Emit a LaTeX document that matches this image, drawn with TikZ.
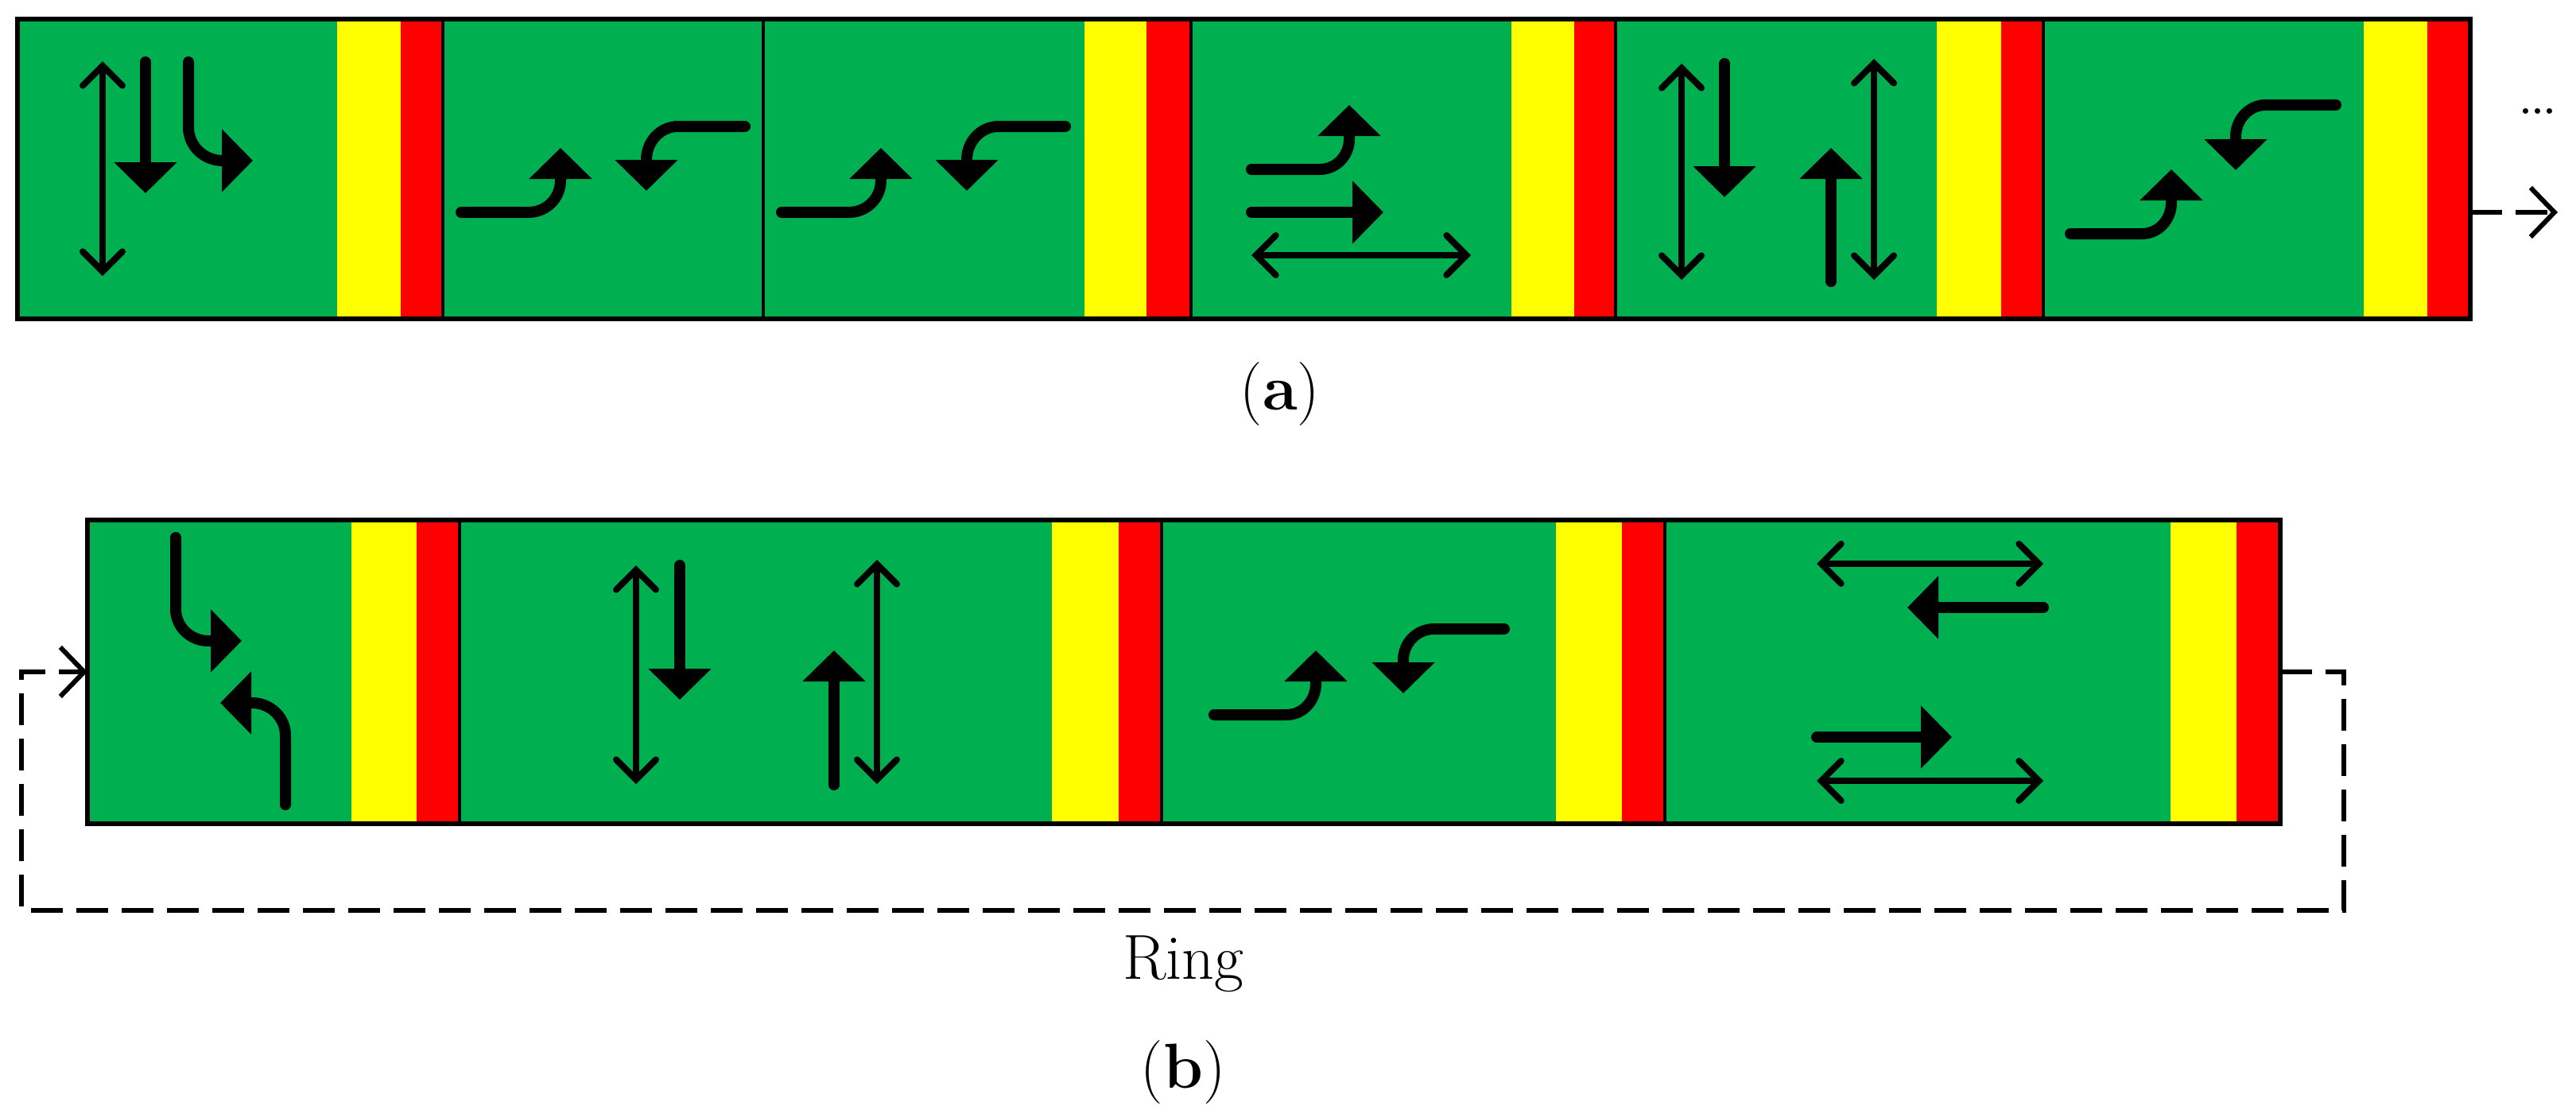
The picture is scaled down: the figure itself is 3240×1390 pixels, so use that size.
\documentclass[tikz,border=0pt]{standalone}
\usetikzlibrary{arrows.meta}
\definecolor{lgreen}{RGB}{0,176,80}
\definecolor{lyel}{RGB}{255,255,0}
\definecolor{lred}{RGB}{255,0,0}
\tikzset{
 thickarr/.style={line width=14pt,line cap=round,-{Triangle[width=77pt,length=39pt]}},
 dblarr/.style={line width=8pt,line cap=round,{Straight Barb[width=50pt,length=25pt,line cap=round]}-{Straight Barb[width=50pt,length=25pt,line cap=round]}},
 ringline/.style={line width=6pt,dash pattern=on 40pt off 17pt,-{Straight Barb[width=62pt,length=30pt]}},
 divider/.style={line width=4pt},
 border/.style={line width=6pt},
 lbl/.style={font=\fontsize{80}{90}\selectfont,inner sep=0pt}
}
\begin{document}
\begin{tikzpicture}[x=1pt,y=-1pt]
\useasboundingbox (0,0) rectangle (3240,1390);
% ---------- row (a)
\fill[lgreen] (22,24) rectangle (3107,401);
\foreach \ys/\rs/\re in {424/504/557,1364/1442/1498,1901/1980/2032,2436/2517/2570,2973/3053/3107}
  {\fill[lyel] (\ys,24) rectangle (\rs,401); \fill[lred] (\rs,24) rectangle (\re,401);}
\foreach \d in {557,960,1498,2032,2570} \draw[divider] (\d,24) -- (\d,401);
\draw[border] (22,24) rectangle (3107,401);
% panel a1
\draw[dblarr] (129,77) -- (129,347);
\draw[thickarr] (183,78) -- (183,243);
\draw[thickarr] (237,78) -- (237,160) to[out=-90,in=180] (280,202) -- (318,202);
% panel a2, a3
\foreach \s in {0,403}{
 \draw[thickarr] (580+\s,267) -- (665+\s,267) to[out=0,in=-90] (705+\s,227) -- (705+\s,186);
 \draw[thickarr] (937+\s,159) -- (853+\s,159) to[out=180,in=90] (813+\s,201) -- (813+\s,240);
}
% panel a4
\draw[thickarr] (1574,213) -- (1660,213) to[out=0,in=-90] (1697,175) -- (1697,132);
\draw[thickarr] (1574,267) -- (1740,267);
\draw[dblarr] (1574,321) -- (1850,321);
% panel a5
\draw[dblarr] (2115,80) -- (2115,352);
\draw[thickarr] (2169,80) -- (2169,248);
\draw[thickarr] (2303,354) -- (2303,186);
\draw[dblarr] (2357,74) -- (2357,352);
% panel a6
\draw[thickarr] (2604,294) -- (2694,294) to[out=0,in=-90] (2731,255) -- (2731,213);
\draw[thickarr] (2938,132) -- (2850,132) to[out=180,in=90] (2812,172) -- (2812,214);
% continuation
\coordinate (aout) at (3107,267);
\coordinate (aend) at (3217,267);
\draw[ringline] (aout) -- (aend);
\node[inner sep=0pt,font=\fontsize{48}{50}\selectfont\bfseries] (dots) at (3192,140) {...};
\node[lbl] (la) at (1610,496) {(\textbf{a})};
% ---------- row (b)
\fill[lgreen] (110,654) rectangle (2868,1036);
\foreach \ys/\rs/\re in {442/524/578,1323/1407/1461,1957/2040/2094,2730/2813/2868}
  {\fill[lyel] (\ys,654) rectangle (\rs,1036); \fill[lred] (\rs,654) rectangle (\re,1036);}
\foreach \d in {578,1461,2094} \draw[divider] (\d,654) -- (\d,1036);
\draw[border] (110,654) rectangle (2868,1036);
% panel b1
\draw[thickarr] (221,676) -- (221,766) to[out=-90,in=180] (262,806) -- (304,806);
\draw[thickarr] (359,1012) -- (359,925) to[out=90,in=0] (317,884) -- (277,884);
% panel b2
\draw[dblarr] (800,711) -- (800,986);
\draw[thickarr] (855,711) -- (855,880);
\draw[thickarr] (1049,987) -- (1049,818);
\draw[dblarr] (1103,704) -- (1103,986);
% panel b3
\draw[thickarr] (1527,899) -- (1618,899) to[out=0,in=-90] (1655,860) -- (1655,818);
\draw[thickarr] (1892,791) -- (1804,791) to[out=180,in=90] (1765,830) -- (1765,872);
% panel b4
\draw[dblarr] (2285,709) -- (2570,709);
\draw[thickarr] (2570,764) -- (2399,764);
\draw[thickarr] (2285,927) -- (2455,927);
\draw[dblarr] (2285,982) -- (2570,982);
% ring
\coordinate (rout) at (2868,845);
\coordinate (rin) at (110,845);
\draw[ringline] (rout) -- (2948,845) -- (2948,1145) -- (27,1145) -- (27,845) -- (rin);
\node[lbl] (ring) at (1488,1212) {Ring};
\node[lbl] (lb) at (1488,1349) {(\textbf{b})};
\end{tikzpicture}
\end{document}
